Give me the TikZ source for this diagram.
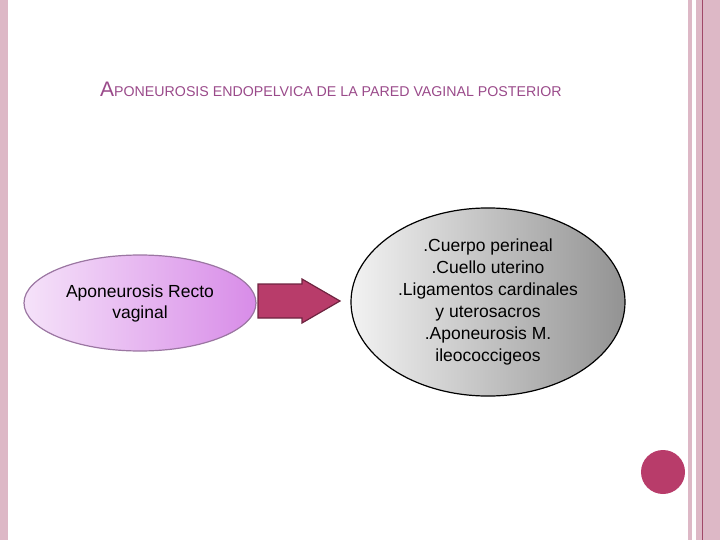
\documentclass[tikz,border=0pt]{standalone}
\usepackage{fontspec}
\setmainfont{Liberation Sans}
\usetikzlibrary{shapes.geometric}
\definecolor{band}{HTML}{DDB8C6}
\definecolor{bandline}{HTML}{A04868}
\definecolor{rose}{HTML}{B83C6A}
\definecolor{titlec}{HTML}{9A4A8A}
\definecolor{violet}{HTML}{D88CE8}
\tikzset{
  lefteye/.style={ellipse, draw=violet!60!black!80, line width=1.2pt, minimum width=232pt, minimum height=96pt,
    left color=violet!25, right color=violet, align=center, font=\fontsize{17.5}{21}\selectfont},
  righteye/.style={ellipse, draw=black, line width=1.2pt, minimum width=274pt, minimum height=140pt,
    left color=gray!10, right color=gray!85, align=center, font=\fontsize{17.5}{22}\selectfont},
}
\begin{document}
\begin{tikzpicture}[x=1pt,y=-1pt]
\useasboundingbox (0,0) rectangle (720,540);
% borders
\fill[band] (0,0) rectangle (8,540);
\fill[band] (688,0) rectangle (692,540);
\fill[band] (696,0) rectangle (720,540);
\draw[bandline, line width=0.8pt] (702,0) -- (702,540);
% title
\node[anchor=base west, text=titlec, inner sep=0] (title) at (100,97)
  {\fontsize{21}{24}\selectfont A\fontsize{14.2}{16}\selectfont PONEUROSIS ENDOPELVICA DE LA PARED VAGINAL POSTERIOR};
% ellipses
\node[lefteye] (rv) at (140,303) {Aponeurosis Recto\\vaginal};
\node[righteye] (cp) at (488,302) {.Cuerpo perineal\\.Cuello uterino\\.Ligamentos cardinales\\y uterosacros\\.Aponeurosis M.\\ileococcigeos};
% arrow
\filldraw[fill=rose, draw=rose!60!black, line width=1.2pt, line join=miter]
  (258,284) -- (302,284) -- (302,279) -- (340,301) -- (302,323) -- (302,318) -- (258,318) -- cycle;
% dot
\fill[rose] (663,472) circle (22);
\end{tikzpicture}
\end{document}
